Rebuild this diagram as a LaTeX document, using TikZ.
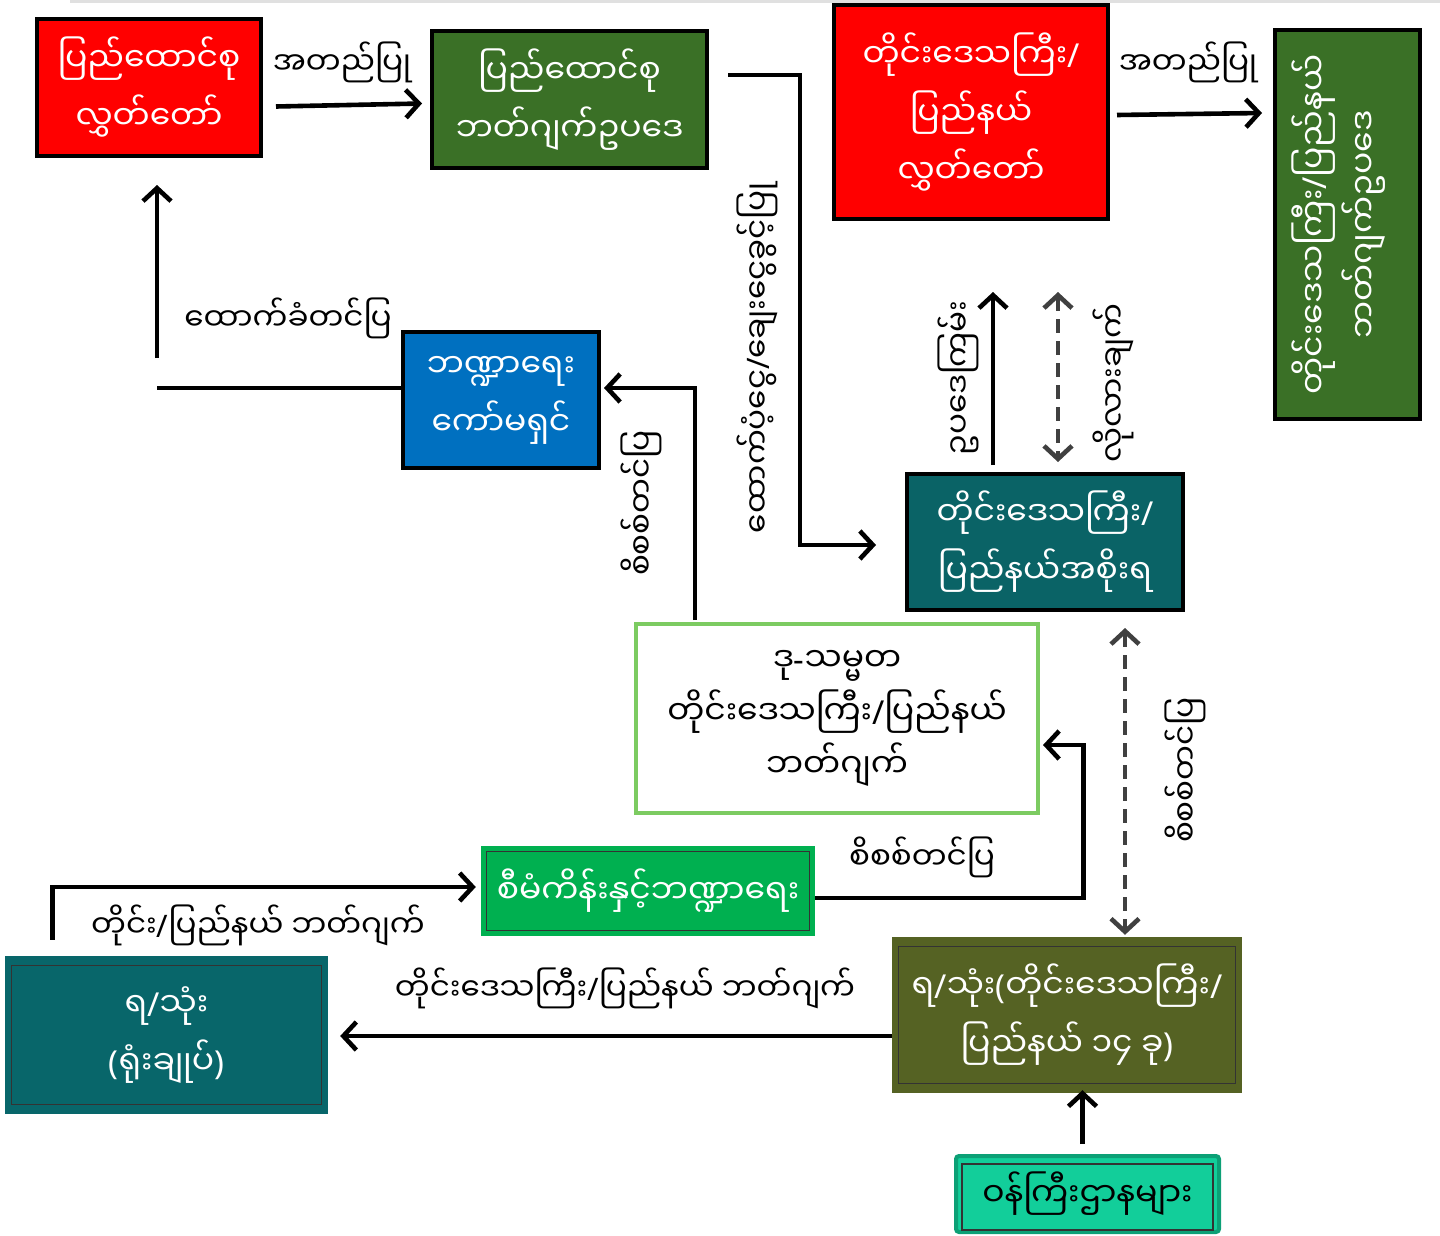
\documentclass[tikz,border=0pt]{standalone}
\usepackage{fontspec}
\newfontfamily\mya[Script=Myanmar]{Noto Sans Myanmar UI}
\newfontfamily\lat{Noto Sans}
\newcommand\SL{{\lat /}}
\newcommand\LP{{\lat (}}
\newcommand\RP{{\lat )}}
\newcommand\HY{{\lat -}}
\usetikzlibrary{arrows.meta,calc}
\definecolor{cred}{RGB}{255,0,0}
\definecolor{cdgreen}{RGB}{58,112,38}
\definecolor{cblue}{RGB}{0,112,192}
\definecolor{cteal}{RGB}{10,99,102}
\definecolor{cteal2}{RGB}{8,102,106}
\definecolor{cwgreen}{RGB}{124,203,97}
\definecolor{cgreen}{RGB}{0,176,80}
\definecolor{colive}{RGB}{85,98,35}
\definecolor{cmint}{RGB}{18,206,154}
\definecolor{cmintb}{RGB}{12,160,118}
\definecolor{cdash}{RGB}{64,64,64}
\tikzset{
  boxtxt/.style={font=\mya\fontsize{33}{58}\selectfont, align=center, inner sep=0pt},
  bbox/.style={boxtxt, draw=black, line width=4pt, text=white},
  fbox/.style={boxtxt, text=white},
  lbl/.style={font=\mya\fontsize{31}{36}\selectfont, inner sep=0pt},
  arr/.style={line width=4.6pt, draw=black, -{Straight Barb[length=13pt,width=28pt]}},
  darr/.style={line width=4.6pt, draw=cdash, dash pattern=on 14pt off 8pt,
     {Straight Barb[length=13pt,width=28pt]}-{Straight Barb[length=13pt,width=28pt]}},
  plain/.style={line width=4.6pt, draw=black},
  inner/.style={draw=black!80, line width=1.2pt}
}
\begin{document}
\begin{tikzpicture}[x=1pt,y=-1pt]
\useasboundingbox (0,0) rectangle (1440,1236);
\draw[line width=3pt, black!12] (70,1.5) -- (1440,1.5);
% boxes
\node[bbox, fill=cred, minimum width=224pt, minimum height=137pt] (r1) at (149,87.5) {ပြည်ထောင်စု\\လွှတ်တော်};
\node[bbox, fill=cdgreen, minimum width=275pt, minimum height=137pt] (g1) at (569.5,99.5) {ပြည်ထောင်စု\\ဘတ်ဂျက်ဥပဒေ};
\node[bbox, fill=cred, minimum width=274pt, minimum height=214pt] (r2) at (971,112) {တိုင်းဒေသကြီး\SL\\ပြည်နယ်\\လွှတ်တော်};
\node[bbox, fill=cdgreen, minimum width=145pt, minimum height=389pt] (g2) at (1347.5,224.5) {};
\node[fbox, rotate=90, font=\mya\fontsize{33}{50}\selectfont] (g2t) at ($(g2.center)+(-9,0)$) {တိုင်းဒေသကြီး\SL ပြည်နယ်\\ဘတ်ဂျက်ဥပဒေ};
\node[bbox, fill=cblue, minimum width=196pt, minimum height=136pt] (bl) at (501,400) {ဘဏ္ဍာရေး\\ကော်မရှင်};
\node[bbox, fill=cteal, minimum width=276pt, minimum height=136pt] (t1) at (1045,542) {တိုင်းဒေသကြီး\SL\\ပြည်နယ်အစိုးရ};
\node[boxtxt, draw=cwgreen, line width=4pt, fill=white, text=black, minimum width=402pt, minimum height=189pt, font=\mya\fontsize{33}{53}\selectfont] (w) at (837,718.5) {ဒု\HY သမ္မတ\\တိုင်းဒေသကြီး\SL ပြည်နယ်\\ဘတ်ဂျက်};
\node[fbox, fill=cgreen, minimum width=334pt, minimum height=90pt] (gs) at (648,891) {စီမံကိန်းနှင့်ဘဏ္ဍာရေး};
\draw[inner] ($(gs.north west)+(6,6)$) rectangle ($(gs.south east)+(-6,-6)$);
\node[fbox, fill=cteal2, minimum width=323pt, minimum height=158pt] (t2) at (166.5,1035) {ရ\SL သုံး\\\LP ရုံးချုပ်\RP};
\draw[inner] ($(t2.north west)+(7,10)$) rectangle ($(t2.south east)+(-7,-10)$);
\node[fbox, fill=colive, minimum width=350pt, minimum height=156pt] (ol) at (1067,1015) {ရ\SL သုံး\LP တိုင်းဒေသကြီး\SL\\ပြည်နယ် ၁၄ ခု\RP};
\draw[inner] ($(ol.north west)+(7,10)$) rectangle ($(ol.south east)+(-7,-10)$);
\node[boxtxt, fill=cmint, draw=cmintb, line width=4pt, rounded corners=3pt, text=black, minimum width=263pt, minimum height=76pt] (mn) at (1087.5,1194) {ဝန်ကြီးဌာနများ};
\draw[inner] ($(mn.north west)+(8,10)$) rectangle ($(mn.south east)+(-8,-4)$);
% labels
\node[lbl] (l1) at (342,62) {အတည်ပြု};
\node[lbl] (l2) at (1188,62) {အတည်ပြု};
\node[lbl] (l3) at (288,318) {ထောက်ခံတင်ပြ};
\node[lbl, rotate=90] (l4) at (757,358) {ထောက်ပံ့ငွေ\SL ချေးငွေခွင့်ပြု};
\node[lbl, rotate=90] (l5) at (958,378) {ဥပဒေကြမ်း};
\node[lbl, rotate=90] (l6) at (1113,383) {လိုလားချက်};
\node[lbl, rotate=90] (l7) at (641,503) {စိစစ်တင်ပြ};
\node[lbl, rotate=90] (l8) at (1185,770) {စိစစ်တင်ပြ};
\node[lbl] (l9) at (922,857) {စိစစ်တင်ပြ};
\node[lbl] (l10) at (258,925) {တိုင်း\SL ပြည်နယ် ဘတ်ဂျက်};
\node[lbl] (l11) at (625,988) {တိုင်းဒေသကြီး\SL ပြည်နယ် ဘတ်ဂျက်};
% connectors
\draw[arr] ($(r1.east)+(13,19)$) -- ($(g1.west)+(-8,4)$);
\draw[arr] ($(r2.east)+(7,3)$) -- ($(r2.east -| g2.west)+(-11,1)$);
\coordinate (c1) at (157,388);
\coordinate (c2) at (157,358);
\draw[plain] ($(bl.west)+(0,-12)$) -- (c1);
\draw[arr] (c2) -- ($(r1.south -| c2)+(0,27)$);
\draw[arr] ($(g1.east)+(19,-24.5)$) -- ++(72,0) |- ($(t1.west)+(-29,3)$);
\draw[arr] ($(t1.north)+(-52,-7)$) -- ($(t1.north)+(-52,-180)$);
\draw[darr] ($(t1.north)+(13,-180)$) -- ($(t1.north)+(13,-10)$);
\draw[arr] ($(w.north)+(-142,-2)$) |- ($(bl.east)+(3,-12)$);
\draw[darr] ($(t1.south)+(80,16)$) -- ($(ol.north)+(58,-2)$);
\draw[arr] ($(gs.east)+(0,7)$) -- ++(268,0) |- ($(w.east)+(3,26.5)$);
\draw[arr] ($(t2.north)+(-114,-16)$) |- ($(gs.west)+(-5,-4)$);
\draw[arr] ($(ol.west)+(0,21)$) -- ($(t2.east)+(12,1)$);
\draw[arr] ($(mn.north)+(-5,-10)$) -- ($(mn.north |- ol.south)+(-5,-3)$);
\end{tikzpicture}
\end{document}
